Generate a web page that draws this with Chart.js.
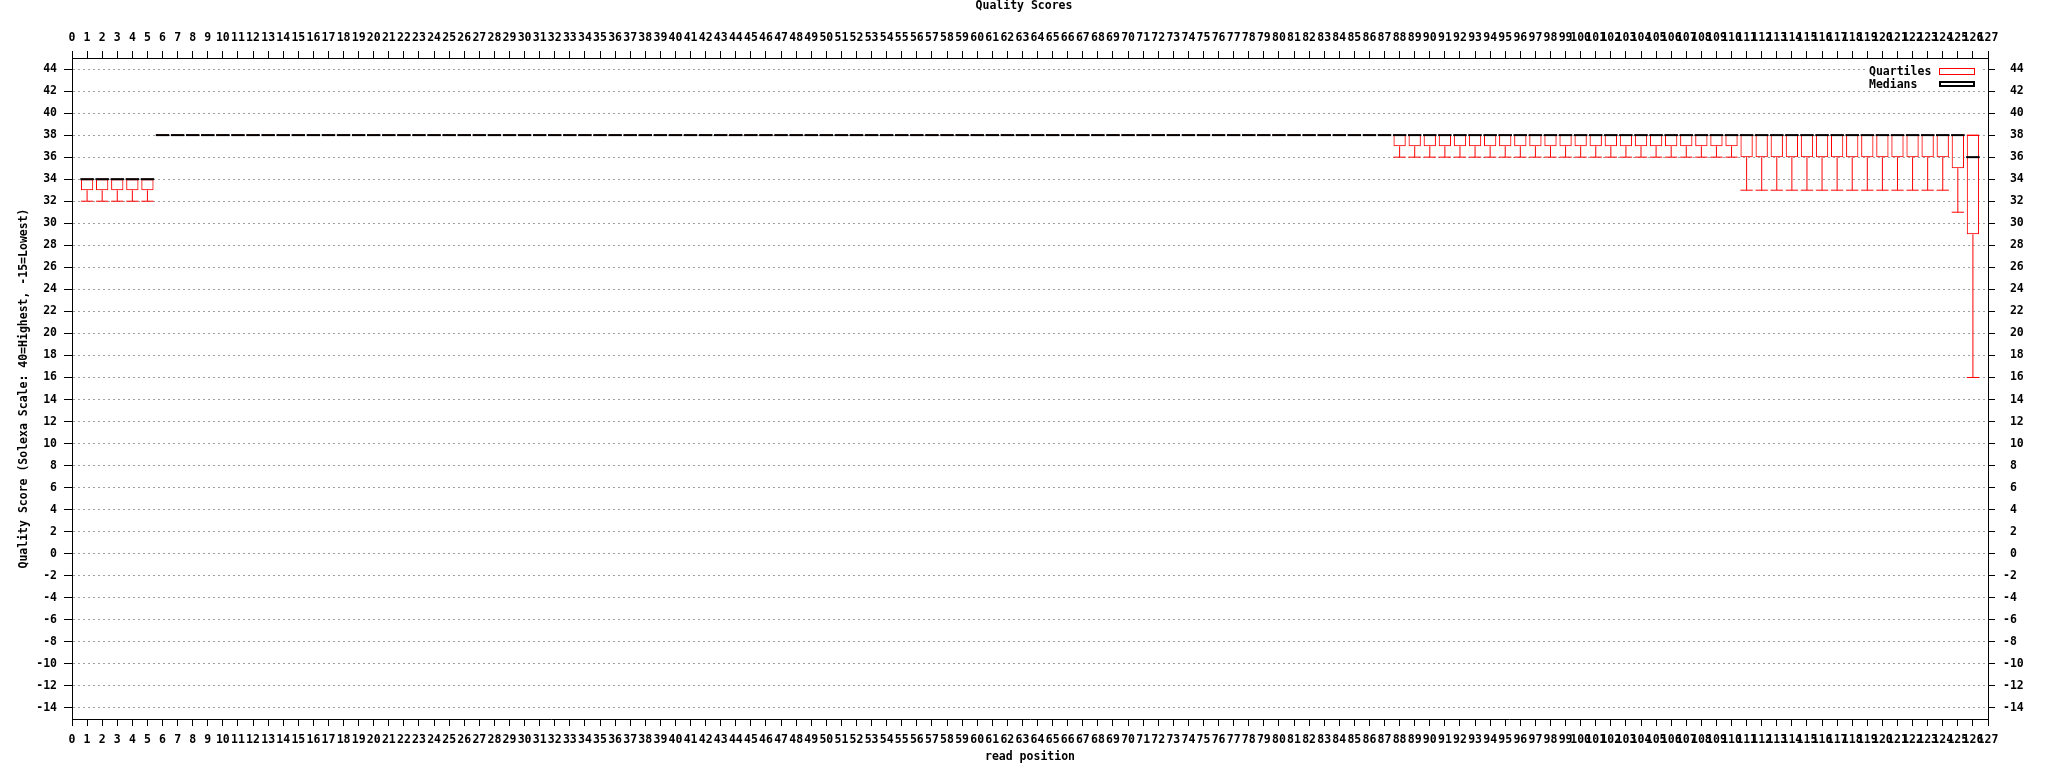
<!DOCTYPE html>
<html><head><meta charset="utf-8">
<script src="https://cdn.jsdelivr.net/npm/chart.js@4.4.1/dist/chart.umd.min.js"></script>
<style>html,body{margin:0;padding:0;background:#fff;} canvas{display:block;}</style>
</head><body>
<canvas id="c" width="2048" height="768"></canvas>
<script>
// read positions (categories)
const positions = [
  1,2,3,4,5,6,7,8,9,10,
  11,12,13,14,15,16,17,18,19,20,
  21,22,23,24,25,26,27,28,29,30,
  31,32,33,34,35,36,37,38,39,40,
  41,42,43,44,45,46,47,48,49,50,
  51,52,53,54,55,56,57,58,59,60,
  61,62,63,64,65,66,67,68,69,70,
  71,72,73,74,75,76,77,78,79,80,
  81,82,83,84,85,86,87,88,89,90,
  91,92,93,94,95,96,97,98,99,100,
  101,102,103,104,105,106,107,108,109,110,
  111,112,113,114,115,116,117,118,119,120,
  121,122,123,124,125,126
];
const lowWhisker = [
  32,32,32,32,32,38,38,38,38,38,
  38,38,38,38,38,38,38,38,38,38,
  38,38,38,38,38,38,38,38,38,38,
  38,38,38,38,38,38,38,38,38,38,
  38,38,38,38,38,38,38,38,38,38,
  38,38,38,38,38,38,38,38,38,38,
  38,38,38,38,38,38,38,38,38,38,
  38,38,38,38,38,38,38,38,38,38,
  38,38,38,38,38,38,38,36,36,36,
  36,36,36,36,36,36,36,36,36,36,
  36,36,36,36,36,36,36,36,36,36,
  33,33,33,33,33,33,33,33,33,33,
  33,33,33,33,31,16
];
const q1 = [
  33,33,33,33,33,38,38,38,38,38,
  38,38,38,38,38,38,38,38,38,38,
  38,38,38,38,38,38,38,38,38,38,
  38,38,38,38,38,38,38,38,38,38,
  38,38,38,38,38,38,38,38,38,38,
  38,38,38,38,38,38,38,38,38,38,
  38,38,38,38,38,38,38,38,38,38,
  38,38,38,38,38,38,38,38,38,38,
  38,38,38,38,38,38,38,37,37,37,
  37,37,37,37,37,37,37,37,37,37,
  37,37,37,37,37,37,37,37,37,37,
  36,36,36,36,36,36,36,36,36,36,
  36,36,36,36,35,29
];
const medians = [
  34,34,34,34,34,38,38,38,38,38,
  38,38,38,38,38,38,38,38,38,38,
  38,38,38,38,38,38,38,38,38,38,
  38,38,38,38,38,38,38,38,38,38,
  38,38,38,38,38,38,38,38,38,38,
  38,38,38,38,38,38,38,38,38,38,
  38,38,38,38,38,38,38,38,38,38,
  38,38,38,38,38,38,38,38,38,38,
  38,38,38,38,38,38,38,38,38,38,
  38,38,38,38,38,38,38,38,38,38,
  38,38,38,38,38,38,38,38,38,38,
  38,38,38,38,38,38,38,38,38,38,
  38,38,38,38,38,36
];
const q3 = [
  34,34,34,34,34,38,38,38,38,38,
  38,38,38,38,38,38,38,38,38,38,
  38,38,38,38,38,38,38,38,38,38,
  38,38,38,38,38,38,38,38,38,38,
  38,38,38,38,38,38,38,38,38,38,
  38,38,38,38,38,38,38,38,38,38,
  38,38,38,38,38,38,38,38,38,38,
  38,38,38,38,38,38,38,38,38,38,
  38,38,38,38,38,38,38,38,38,38,
  38,38,38,38,38,38,38,38,38,38,
  38,38,38,38,38,38,38,38,38,38,
  38,38,38,38,38,38,38,38,38,38,
  38,38,38,38,38,38
];
const highWhisker = [
  34,34,34,34,34,38,38,38,38,38,
  38,38,38,38,38,38,38,38,38,38,
  38,38,38,38,38,38,38,38,38,38,
  38,38,38,38,38,38,38,38,38,38,
  38,38,38,38,38,38,38,38,38,38,
  38,38,38,38,38,38,38,38,38,38,
  38,38,38,38,38,38,38,38,38,38,
  38,38,38,38,38,38,38,38,38,38,
  38,38,38,38,38,38,38,38,38,38,
  38,38,38,38,38,38,38,38,38,38,
  38,38,38,38,38,38,38,38,38,38,
  38,38,38,38,38,38,38,38,38,38,
  38,38,38,38,38,38
];
const yTickValues = [-14,-12,-10,-8,-6,-4,-2,0,2,4,6,8,10,12,14,16,18,20,22,24,26,28,30,32,34,36,38,40,42,44];
const xRange = [0, 127];
const yRange = [-15, 45];
const chartTitle = 'Quality Scores';
const xTitle = 'read position';
const yTitle = 'Quality Score (Solexa Scale: 40=Highest, -15=Lowest)';

const FAMILY = "'DejaVu Sans Mono', monospace";
const FONT = {family: FAMILY, size: 11.5, weight: 'bold'};
const TFONT = {family: FAMILY, size: 11.5, weight: 'bold', lineHeight: 1};
const RED = '#ff0000', BLACK = '#000000', GRID = '#a0a0a0';

const pts = (arr) => positions.map((p, i) => ({x: p, y: arr[i]}));
const rng = (a, b) => positions.map((p, i) => ({x: p, y: [a[i], b[i]]}));

const keyPlugin = {
  id: 'key',
  afterDatasetsDraw(chart) {
    const {ctx, chartArea: a} = chart;
    ctx.save();
    ctx.fillStyle = '#fff';
    ctx.fillRect(a.right - 122, a.top + 6, 114, 26);
    ctx.font = 'bold 11.5px ' + FAMILY;
    ctx.fillStyle = BLACK; ctx.textBaseline = 'middle'; ctx.textAlign = 'left';
    ctx.fillText(chart.data.datasets[3].label, a.right - 119, a.top + 14);
    ctx.fillText(chart.data.datasets[0].label, a.right - 119, a.top + 27.5);
    ctx.strokeStyle = RED; ctx.lineWidth = 1;
    ctx.strokeRect(a.right - 48.5, a.top + 10.5, 35, 6);
    ctx.strokeStyle = BLACK; ctx.lineWidth = 2;
    ctx.strokeRect(a.right - 48, a.top + 24, 34, 4);
    ctx.restore();
  }
};

const xAxisBase = (pos, pad) => ({
  type: 'linear', position: pos, min: xRange[0], max: xRange[1], offset: false,
  ticks: {stepSize: 1, autoSkip: false, maxRotation: 0, minRotation: 0, padding: pad,
          color: BLACK, font: FONT, maxTicksLimit: 500},
  grid: {display: true, drawOnChartArea: false, drawTicks: true, tickLength: 7,
         tickColor: BLACK, tickWidth: 1, offset: false},
  border: {display: true, color: BLACK, width: 1}
});

const xBottom = Object.assign(xAxisBase('bottom', 7), {
  title: {display: true, text: xTitle, color: BLACK, font: TFONT, padding: {top: 0, bottom: 5}},
  afterFit: s => { s.height = 49; }
});
const xTop = Object.assign(xAxisBase('top', 6.5), {
  afterFit: s => { s.height = 46.5; }
});

new Chart(document.getElementById('c'), {
  type: 'bar',
  data: {
    datasets: [
      {type: 'scatter', label: 'Medians', data: pts(medians), pointStyle: 'line',
       pointRadius: 6.75, pointHoverRadius: 6.75, pointBorderColor: BLACK,
       pointBackgroundColor: BLACK, pointBorderWidth: 2, showLine: false},
      {type: 'scatter', label: 'low caps', data: pts(lowWhisker), pointStyle: 'line',
       pointRadius: 6.15, pointHoverRadius: 6.15, pointBorderColor: RED,
       pointBackgroundColor: RED, pointBorderWidth: 1, showLine: false},
      {type: 'scatter', label: 'high caps', data: pts(highWhisker), pointStyle: 'line',
       pointRadius: 6.15, pointHoverRadius: 6.15, pointBorderColor: RED,
       pointBackgroundColor: RED, pointBorderWidth: 1, showLine: false},
      {type: 'bar', label: 'Quartiles', data: rng(q1, q3), barThickness: 12.3,
       borderColor: RED, borderWidth: 1, backgroundColor: 'rgba(0,0,0,0)',
       borderSkipped: false, grouped: false, inflateAmount: 0},
      {type: 'bar', label: 'low whiskers', data: rng(lowWhisker, q1), barThickness: 1,
       backgroundColor: RED, borderWidth: 0, grouped: false, inflateAmount: 0},
      {type: 'bar', label: 'high whiskers', data: rng(q3, highWhisker), barThickness: 1,
       backgroundColor: RED, borderWidth: 0, grouped: false, inflateAmount: 0}
    ]
  },
  options: {
    responsive: false,
    animation: false,
    events: [],
    layout: {padding: 0},
    plugins: {
      legend: {display: false},
      tooltip: {enabled: false},
      title: {display: true, text: chartTitle, color: BLACK, font: TFONT, padding: {top: 0, bottom: 0}}
    },
    scales: {
      x: xBottom,
      x2: xTop,
      y: {
        type: 'linear', position: 'left', min: yRange[0], max: yRange[1],
        afterBuildTicks: s => { s.ticks = yTickValues.map(v => ({value: v})); },
        ticks: {padding: 7, color: BLACK, font: FONT, callback: v => String(v)},
        grid: {color: GRID, lineWidth: 1, drawTicks: true, tickLength: 8, tickColor: BLACK, tickWidth: 1, tickBorderDash: []},
        border: {display: true, color: BLACK, width: 1, dash: [2, 3]},
        title: {display: true, text: yTitle, color: BLACK, font: TFONT, padding: {top: 18, bottom: 0}},
        afterFit: s => { s.width = 72; }
      },
      y2: {
        type: 'linear', position: 'right', min: yRange[0], max: yRange[1],
        afterBuildTicks: s => { s.ticks = yTickValues.map(v => ({value: v})); },
        ticks: {padding: 8, color: BLACK, font: FONT, callback: v => (v >= 0 ? ' ' + v : String(v))},
        grid: {drawOnChartArea: false, drawTicks: true, tickLength: 7, tickColor: BLACK, tickWidth: 1},
        border: {display: true, color: BLACK, width: 1},
        afterFit: s => { s.width = 60; }
      }
    }
  },
  plugins: [keyPlugin]
});
</script>
</body></html>
